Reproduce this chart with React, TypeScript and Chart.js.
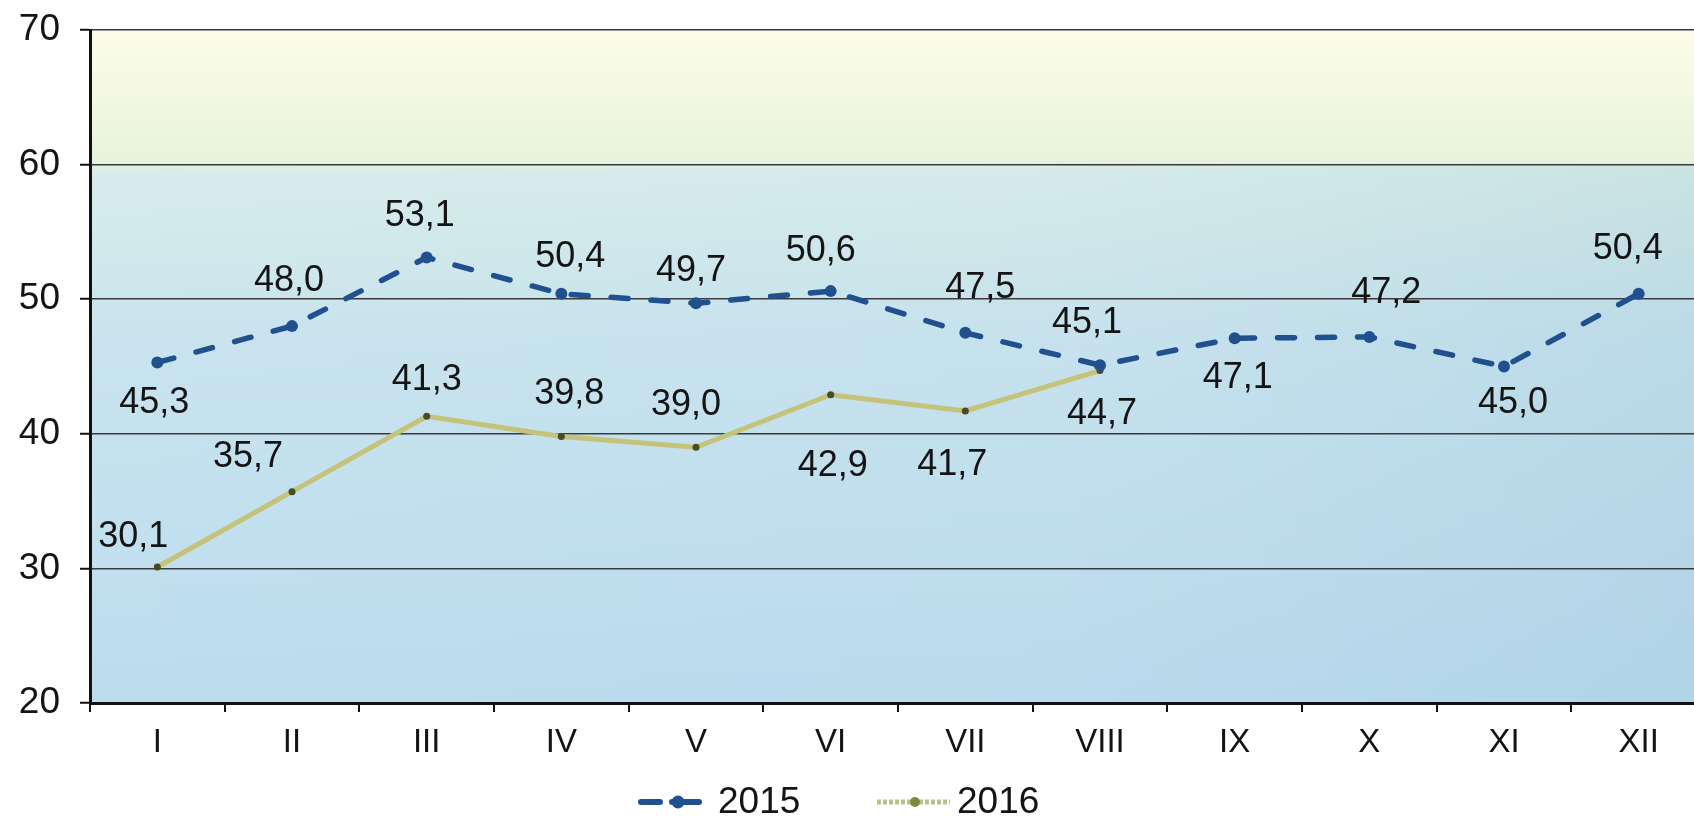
import React, { useEffect, useRef } from "react";
import { Chart, registerables } from "chart.js";

Chart.register(...registerables);

// ---- data ----
const months = ["I", "II", "III", "IV", "V", "VI", "VII", "VIII", "IX", "X", "XI", "XII"];
const values2015 = [45.3, 48.0, 53.1, 50.4, 49.7, 50.6, 47.5, 45.1, 47.1, 47.2, 45.0, 50.4];
const values2016 = [30.1, 35.7, 41.3, 39.8, 39.0, 42.9, 41.7, 44.7, null, null, null, null];
const seriesNames = ["2015", "2016"];
const yTickValues = [20, 30, 40, 50, 60, 70];

// ---- label placement (pixel offsets from the point) ----
const labelOffsets2015 = [
  [-3, 41], [-3, -45], [-7, -41], [9, -37], [-5, -32], [-10, -40],
  [15, -45], [-13, -42], [3, 40], [17, -44], [9, 37], [-11, -45],
];
const labelOffsets2016 = [
  [-24, -30], [-44, -35], [0, -36], [8, -42], [-10, -42], [2, 71], [-13, 54], [2, 44],
];

const FONT = "'Liberation Sans', Arial, Helvetica, sans-serif";
const BLUE = "#21508f";
const KHAKI = "#c5c27a";
const OLIVE_DOT = "#4a4a26";

const fmt = (v: number) => v.toFixed(1).replace(".", ",");

const backgroundPlugin = {
  id: "plotBackground",
  beforeDraw(chart: any) {
    const { ctx, chartArea: a, scales } = chart;
    if (!a) return;
    ctx.save();
    const g = ctx.createLinearGradient(0, a.top, 0, a.bottom);
    g.addColorStop(0, "#fbfce9");
    g.addColorStop(0.1, "#f3f8e0");
    g.addColorStop(0.19, "#e8f3dc");
    g.addColorStop(0.21, "#d8edea");
    g.addColorStop(0.45, "#c9e4ee");
    g.addColorStop(1, "#bcdcee");
    ctx.fillStyle = g;
    ctx.fillRect(a.left, a.top, a.right - a.left, a.bottom - a.top);
    const y60 = scales.y.getPixelForValue(60);
    const h = ctx.createLinearGradient(a.left, 0, a.right, 0);
    h.addColorStop(0, "rgba(120,170,200,0)");
    h.addColorStop(0.6, "rgba(110,160,190,0.03)");
    h.addColorStop(1, "rgba(90,150,180,0.12)");
    ctx.fillStyle = h;
    ctx.fillRect(a.left, y60, a.right - a.left, a.bottom - y60);
    ctx.restore();
  },
};

const valueLabelPlugin = {
  id: "valueLabels",
  afterDatasetsDraw(chart: any) {
    const { ctx } = chart;
    const offsets = [labelOffsets2015, labelOffsets2016];
    ctx.save();
    ctx.font = `36px ${FONT}`;
    ctx.fillStyle = "#141414";
    ctx.textAlign = "center";
    ctx.textBaseline = "middle";
    chart.data.datasets.forEach((ds: any, di: number) => {
      const meta = chart.getDatasetMeta(di);
      meta.data.forEach((el: any, i: number) => {
        const v = ds.data[i];
        if (v === null || v === undefined) return;
        const off = offsets[di][i] || [0, -40];
        ctx.fillText(fmt(v), el.x + off[0], el.y + off[1]);
      });
    });
    ctx.restore();
  },
};

const legendPlugin = {
  id: "customLegend",
  afterDraw(chart: any) {
    const { ctx } = chart;
    const y = 802;
    ctx.save();
    // 2015 symbol: dash, dot, dash
    ctx.strokeStyle = BLUE;
    ctx.fillStyle = BLUE;
    ctx.lineWidth = 6;
    ctx.lineCap = "round";
    ctx.beginPath();
    ctx.moveTo(641, y);
    ctx.lineTo(660, y);
    ctx.moveTo(672, y);
    ctx.lineTo(699, y);
    ctx.stroke();
    ctx.beginPath();
    ctx.arc(678, y, 6.5, 0, Math.PI * 2);
    ctx.fill();
    // 2016 symbol: khaki textured line with dot
    ctx.lineCap = "butt";
    ctx.strokeStyle = "#b9c08a";
    ctx.lineWidth = 5;
    ctx.setLineDash([4, 2]);
    ctx.beginPath();
    ctx.moveTo(877, y);
    ctx.lineTo(950, y);
    ctx.stroke();
    ctx.setLineDash([]);
    ctx.fillStyle = "#7d8a3c";
    ctx.beginPath();
    ctx.arc(915, y, 5, 0, Math.PI * 2);
    ctx.fill();
    // texts
    ctx.font = `37px ${FONT}`;
    ctx.fillStyle = "#141414";
    ctx.textAlign = "left";
    ctx.textBaseline = "middle";
    ctx.fillText(seriesNames[0], 718, y + 1);
    ctx.fillText(seriesNames[1], 957, y + 1);
    ctx.restore();
  },
};

export default function App() {
  const canvasRef = useRef<HTMLCanvasElement | null>(null);

  useEffect(() => {
    document.body.style.margin = "0";
    document.body.style.overflow = "hidden";
    const canvas = canvasRef.current;
    if (!canvas) return;
    const chart = new Chart(canvas, {
      type: "line",
      data: {
        labels: months,
        datasets: [
          {
            label: seriesNames[0],
            data: values2015,
            borderColor: BLUE,
            backgroundColor: BLUE,
            borderWidth: 5.5,
            borderDash: [17, 23],
            borderCapStyle: "round",
            pointRadius: 6,
            pointBackgroundColor: BLUE,
            pointBorderWidth: 0,
            tension: 0,
          },
          {
            label: seriesNames[1],
            data: values2016,
            borderColor: KHAKI,
            backgroundColor: KHAKI,
            borderWidth: 5,
            pointRadius: 3.5,
            pointBackgroundColor: OLIVE_DOT,
            pointBorderWidth: 0,
            tension: 0,
            spanGaps: false,
          },
        ],
      },
      options: {
        animation: false,
        responsive: false,
        devicePixelRatio: 1,
        layout: { padding: { top: 30, right: 0, bottom: 60, left: 0 } },
        plugins: {
          legend: { display: false },
          tooltip: { enabled: false },
        },
        scales: {
          x: {
            type: "category",
            offset: true,
            grid: {
              offset: true,
              drawOnChartArea: false,
              drawTicks: true,
              tickLength: 9,
              color: "#111",
              lineWidth: 2,
            },
            border: { color: "#111", width: 3 },
            ticks: {
              color: "#141414",
              font: { size: 33, family: FONT },
              padding: 11,
              maxRotation: 0,
              autoSkip: false,
            },
            afterFit: (s: any) => {
              s.height = 53;
              s.paddingLeft = 0;
              s.paddingRight = 0;
            },
          },
          y: {
            min: yTickValues[0],
            max: yTickValues[yTickValues.length - 1],
            afterBuildTicks: (s: any) => {
              s.ticks = yTickValues.map((v) => ({ value: v }));
            },
            ticks: {
              color: "#141414",
              font: { size: 37, family: FONT },
              padding: 20,
            },
            grid: {
              color: "#3a3a3a",
              lineWidth: 1.5,
              tickLength: 10,
              tickColor: "#111",
              tickWidth: 2,
            },
            border: { color: "#111", width: 3 },
            afterFit: (s: any) => {
              s.width = 90;
              s.paddingTop = 0;
              s.paddingBottom = 0;
            },
          },
        },
      },
      plugins: [backgroundPlugin, valueLabelPlugin, legendPlugin],
    } as any);
    return () => chart.destroy();
  }, []);

  return (
    <div style={{ width: 1694, height: 816, overflow: "hidden", position: "relative", background: "#fff" }}>
      <canvas ref={canvasRef} width={1712} height={816} style={{ display: "block" }} />
    </div>
  );
}
